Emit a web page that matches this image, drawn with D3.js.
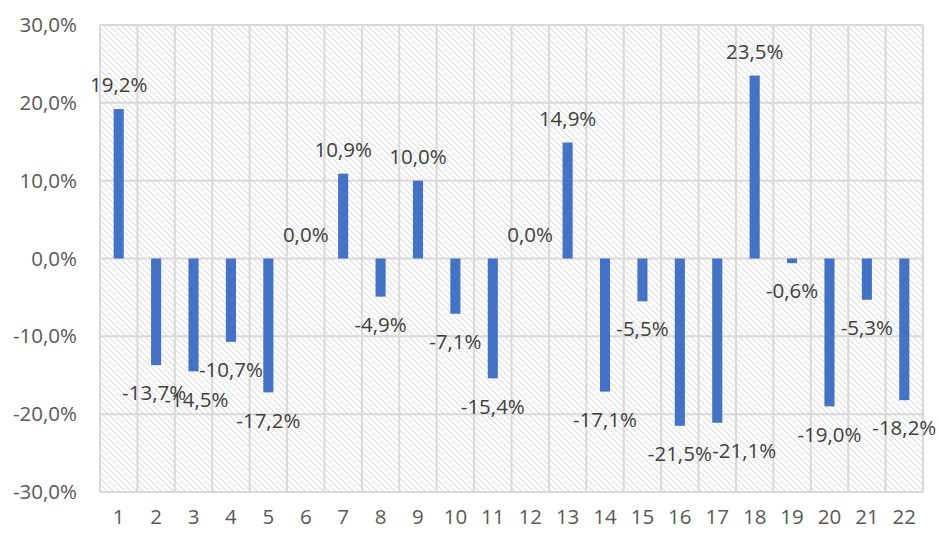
<!DOCTYPE html>
<html><head><meta charset="utf-8">
<script src="https://cdn.jsdelivr.net/npm/d3@7"></script>
<style>html,body{margin:0;padding:0;background:#fff;}svg{display:block;}</style>
</head><body>
<svg id="chart" width="940" height="534"></svg>
<script>
const categories = ["1","2","3","4","5","6","7","8","9","10","11","12","13","14","15","16","17","18","19","20","21","22"];
const values = [19.2,-13.7,-14.5,-10.7,-17.2,0.0,10.9,-4.9,10.0,-7.1,-15.4,0.0,14.9,-17.1,-5.5,-21.5,-21.1,23.5,-0.6,-19.0,-5.3,-18.2];
const yTicks = [-30,-20,-10,0,10,20,30];
const labelNudgeX = [0,-2,3,0,0,0,0,0,0,0,0,0,0,0,0,0,27,0,0,0,0,0];

const fmt = v => v.toFixed(1).replace(".", ",") + "%";
const svg = d3.select("#chart");
const m = {left:100, right:17, top:25, bottom:42};
const W = 940, H = 534;
const x = d3.scaleBand().domain(categories).range([m.left, W - m.right]).padding(0);
const y = d3.scaleLinear().domain([-30, 30]).range([H - m.bottom, m.top]);
const font = "'Open Sans', 'Liberation Sans', Arial, sans-serif";
const fs = 20.5;
const txt = "#595959";
const grid = "#d9d9d9";

const defs = svg.append("defs");
const pat = defs.append("pattern").attr("id","hatch").attr("patternUnits","userSpaceOnUse")
  .attr("width",6).attr("height",6);
pat.append("rect").attr("width",6).attr("height",6).attr("fill","#fff");
pat.append("path").attr("d","M-1,-1 L7,7 M-1,5 L1,7 M5,-1 L7,1")
  .attr("stroke","#e0e0e0").attr("stroke-width",1.2);

// plot background
svg.append("rect").attr("x", m.left).attr("y", m.top)
  .attr("width", W - m.right - m.left).attr("height", H - m.bottom - m.top)
  .attr("fill","url(#hatch)");

// horizontal gridlines
svg.append("g").selectAll("line").data(yTicks).join("line")
  .attr("x1", m.left).attr("x2", W - m.right)
  .attr("y1", d => y(d)).attr("y2", d => y(d))
  .attr("stroke", grid).attr("stroke-width", 2);

// vertical gridlines at category boundaries
const bounds = categories.map(c => x(c)).concat([x(categories[categories.length-1]) + x.bandwidth()]);
svg.append("g").selectAll("line").data(bounds).join("line")
  .attr("x1", d => d).attr("x2", d => d)
  .attr("y1", m.top).attr("y2", H - m.bottom)
  .attr("stroke", grid).attr("stroke-width", 2);

// bars
const bw = x.bandwidth() * 0.27;
svg.append("g").selectAll("rect").data(values).join("rect")
  .attr("x", (d,i) => x(categories[i]) + x.bandwidth()/2 - bw/2)
  .attr("width", bw)
  .attr("y", d => y(Math.max(0,d)))
  .attr("height", d => Math.abs(y(d) - y(0)))
  .attr("fill", "#4472C4");

// y axis labels
const yAxis = d3.axisLeft(y).tickValues(yTicks).tickSize(0).tickPadding(0).tickFormat(fmt);
const ya = svg.append("g").attr("transform", `translate(${m.left - 23},0)`).call(yAxis);
ya.select(".domain").remove();
ya.selectAll("text").attr("font-family", font).attr("font-size", fs).attr("fill", txt);

// x axis labels
const xAxis = d3.axisBottom(x).tickSize(0).tickPadding(0);
const xa = svg.append("g").attr("transform", `translate(0,${H - m.bottom + 25})`).call(xAxis);
xa.select(".domain").remove();
xa.selectAll("text").attr("font-family", font).attr("font-size", fs).attr("fill", txt).attr("dy","0.35em");

// data labels
svg.append("g").selectAll("text").data(values).join("text")
  .attr("x", (d,i) => x(categories[i]) + x.bandwidth()/2 + labelNudgeX[i])
  .attr("y", d => d >= 0 ? y(d) - 24 : y(d) + 28)
  .attr("dy", "0.35em")
  .attr("text-anchor", "middle")
  .attr("font-family", font).attr("font-size", fs).attr("fill", "#404040")
  .text(d => fmt(d));
</script>
</body></html>
